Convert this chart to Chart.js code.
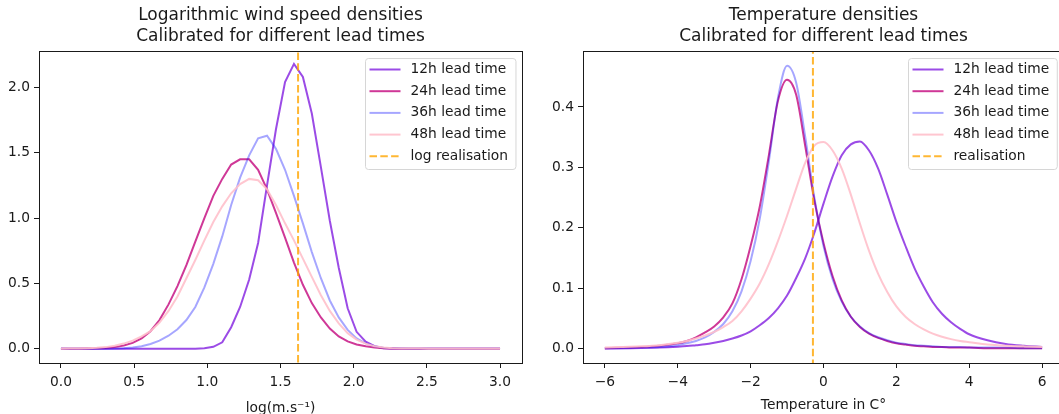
<!DOCTYPE html>
<html>
<head>
<meta charset="utf-8">
<script src="https://cdn.jsdelivr.net/npm/chart.js@4.4.1/dist/chart.umd.min.js"></script>
<style>
  html, body { margin: 0; padding: 0; background: #fff; overflow: hidden; }
  body { width: 1059px; height: 414px; position: relative; }
  #wind { position: absolute; left: 0; top: 0; }
  #temp { position: absolute; left: 530px; top: 0; }
</style>
</head>
<body>
<canvas id="wind" width="530" height="414"></canvas>
<canvas id="temp" width="540" height="414"></canvas>
<script>
// series names (same for both panels)
const leadLabels = ['12h lead time', '24h lead time', '36h lead time', '48h lead time'];

// left panel: log wind speed grid and densities
const windX = [0.000, 0.061, 0.122, 0.184, 0.245, 0.306, 0.367, 0.429, 0.490, 0.551,
  0.612, 0.673, 0.735, 0.796, 0.857, 0.918, 0.980, 1.041, 1.102, 1.163,
  1.224, 1.286, 1.347, 1.408, 1.469, 1.531, 1.592, 1.653, 1.714, 1.776,
  1.837, 1.898, 1.959, 2.020, 2.082, 2.143, 2.204, 2.265, 2.327, 2.388,
  2.449, 2.510, 2.571, 2.633, 2.694, 2.755, 2.816, 2.878, 2.939, 3.000];
const wind12 = [0, 0, 0, 0, 0, 0, 0, 0, 0, 0,
  0, 0, 0, 0, 0, 0, 0.005, 0.015, 0.05, 0.165,
  0.32, 0.53, 0.81, 1.25, 1.68, 2.04, 2.18, 2.08, 1.80, 1.39,
  0.98, 0.62, 0.31, 0.13, 0.055, 0.02, 0.005, 0, 0, 0,
  0, 0, 0, 0, 0, 0, 0, 0, 0, 0];
const wind24 = [0.001, 0.001, 0.001, 0.002, 0.004, 0.007, 0.013, 0.025, 0.045, 0.08,
  0.135, 0.22, 0.34, 0.48, 0.64, 0.82, 1.00, 1.17, 1.30, 1.41,
  1.45, 1.45, 1.37, 1.22, 1.04, 0.85, 0.66, 0.49, 0.35, 0.24,
  0.155, 0.095, 0.057, 0.033, 0.019, 0.01, 0.005, 0.003, 0.001, 0,
  0, 0, 0, 0, 0, 0, 0, 0, 0, 0];
const wind36 = [0, 0, 0, 0, 0, 0.001, 0.002, 0.005, 0.01, 0.02,
  0.037, 0.063, 0.10, 0.15, 0.22, 0.32, 0.47, 0.65, 0.86, 1.10,
  1.31, 1.48, 1.61, 1.63, 1.53, 1.37, 1.17, 0.96, 0.74, 0.54,
  0.37, 0.24, 0.145, 0.08, 0.042, 0.02, 0.009, 0.004, 0.002, 0.001,
  0.001, 0.001, 0.001, 0.001, 0.001, 0.001, 0.001, 0.001, 0.001, 0.001];
const wind48 = [0.001, 0.002, 0.003, 0.005, 0.008, 0.013, 0.023, 0.04, 0.063, 0.095,
  0.135, 0.20, 0.29, 0.40, 0.54, 0.68, 0.83, 0.97, 1.09, 1.19,
  1.26, 1.30, 1.29, 1.22, 1.10, 0.96, 0.83, 0.69, 0.55, 0.41,
  0.29, 0.195, 0.12, 0.07, 0.04, 0.02, 0.01, 0.005, 0.003, 0.002,
  0.002, 0.001, 0.001, 0.001, 0.001, 0.001, 0.001, 0.001, 0.001, 0.001];
const windReal = 1.62;
const windXTicks = [0, 0.5, 1, 1.5, 2, 2.5, 3];
const windYTicks = [0, 0.5, 1, 1.5, 2];

// right panel: temperature grid and densities
const tempX = [-6, -5.5, -5, -4.5, -4, -3.75, -3.5, -3.25, -3, -2.75,
  -2.5, -2.25, -2, -1.75, -1.5, -1.25, -1, -0.75, -0.5, -0.25,
  0, 0.25, 0.5, 0.75, 1, 1.25, 1.5, 1.75, 2, 2.25,
  2.5, 2.75, 3, 3.25, 3.5, 3.75, 4, 4.5, 5, 5.5, 6];
const temp12 = [0.0005, 0.001, 0.0012, 0.002, 0.0035, 0.0045, 0.006, 0.0075, 0.010, 0.013,
  0.017, 0.022, 0.029, 0.039, 0.051, 0.067, 0.088, 0.117, 0.150, 0.192,
  0.24, 0.285, 0.32, 0.338, 0.343, 0.328, 0.298, 0.255, 0.21, 0.17,
  0.133, 0.103, 0.077, 0.058, 0.044, 0.033, 0.024, 0.014, 0.008, 0.005, 0.003];
const temp24 = [0.001, 0.002, 0.003, 0.005, 0.009, 0.013, 0.019, 0.027, 0.037, 0.052,
  0.075, 0.115, 0.17, 0.235, 0.32, 0.41, 0.445, 0.42, 0.335, 0.245,
  0.175, 0.12, 0.08, 0.053, 0.036, 0.025, 0.018, 0.013, 0.009, 0.007,
  0.005, 0.004, 0.003, 0.003, 0.002, 0.002, 0.002, 0.001, 0.001, 0.001, 0.001];
const temp36 = [0.001, 0.001, 0.002, 0.003, 0.006, 0.009, 0.013, 0.019, 0.028, 0.041,
  0.062, 0.095, 0.145, 0.215, 0.31, 0.415, 0.468, 0.44, 0.35, 0.25,
  0.17, 0.115, 0.078, 0.053, 0.037, 0.026, 0.019, 0.014, 0.01, 0.008,
  0.006, 0.005, 0.004, 0.003, 0.003, 0.003, 0.002, 0.002, 0.002, 0.001, 0.001];
const temp48 = [0.002, 0.003, 0.004, 0.006, 0.01, 0.013, 0.017, 0.022, 0.028, 0.036,
  0.046, 0.062, 0.083, 0.108, 0.14, 0.178, 0.22, 0.265, 0.308, 0.336,
  0.342, 0.328, 0.298, 0.255, 0.207, 0.162, 0.124, 0.094, 0.07, 0.053,
  0.041, 0.032, 0.025, 0.02, 0.016, 0.013, 0.011, 0.007, 0.005, 0.004, 0.003];
const tempReal = -0.29;
const tempXTicks = [-6, -4, -2, 0, 2, 4, 6];
const tempYTicks = [0, 0.1, 0.2, 0.3, 0.4];

const FONT = '"DejaVu Sans", sans-serif';
const INK = '#1a1a1a';
const lineColors = ['rgba(138, 43, 226, 0.85)', 'rgba(199, 21, 133, 0.85)',
  'rgba(0, 0, 255, 0.35)', 'rgba(255, 192, 203, 0.9)'];
const realColor = 'rgba(255, 165, 0, 0.8)';

Chart.defaults.font.family = FONT;
Chart.defaults.color = INK;

// closed axes frame + matplotlib style legend box in the upper right
const frameAndLegend = {
  id: 'frameAndLegend',
  afterDatasetsDraw(chart) {
    const {ctx, chartArea: a} = chart;
    ctx.save();
    ctx.strokeStyle = INK;
    ctx.lineWidth = 1;
    ctx.strokeRect(a.left + 0.5, a.top + 0.5, a.right - a.left, a.bottom - a.top);

    const items = chart.data.datasets;
    ctx.font = '13.8px ' + FONT;
    const textW = Math.max(...items.map(d => ctx.measureText(d.label).width));
    const pad = 4, handle = 31, gap = 10, rowH = 21.7;
    const w = pad + handle + gap + textW + 8;
    const h = items.length * rowH + 2.5;
    const x0 = Math.round(a.right - 7 - w) + 0.5, y0 = Math.round(a.top + 7) + 0.5;
    ctx.beginPath();
    ctx.roundRect(x0, y0, w, h, 3);
    ctx.fillStyle = 'rgba(255,255,255,0.8)';
    ctx.fill();
    ctx.strokeStyle = '#d6d6d6';
    ctx.stroke();
    items.forEach((d, i) => {
      const cy = y0 + 11 + i * rowH;
      ctx.beginPath();
      ctx.setLineDash(d.borderDash || []);
      ctx.strokeStyle = d.borderColor;
      ctx.lineWidth = d.borderWidth;
      ctx.moveTo(x0 + pad, cy);
      ctx.lineTo(x0 + pad + handle, cy);
      ctx.stroke();
      ctx.setLineDash([]);
      ctx.fillStyle = INK;
      ctx.textBaseline = 'middle';
      ctx.textAlign = 'left';
      ctx.fillText(d.label, x0 + pad + handle + gap, cy);
    });
    ctx.restore();
  }
};

function densityChart(id, xs, series, realX, realLabel, opt) {
  const datasets = series.map((ys, i) => ({
    label: leadLabels[i],
    data: xs.map((x, k) => ({x: x, y: ys[k]})),
    borderColor: lineColors[i],
    borderWidth: 2,
    pointRadius: 0,
    tension: 0,
    cubicInterpolationMode: opt.smooth ? 'monotone' : 'default',
    order: 4 - i
  }));
  datasets.push({
    label: realLabel,
    data: [{x: realX, y: -100}, {x: realX, y: 100}],
    borderColor: realColor,
    borderWidth: 2,
    borderDash: [7.5, 3.3],
    pointRadius: 0,
    order: 0
  });
  const tickFont = {family: FONT, size: 13.8};
  return new Chart(document.getElementById(id), {
    type: 'line',
    data: {datasets: datasets},
    plugins: [frameAndLegend],
    options: {
      responsive: false,
      animation: false,
      devicePixelRatio: 1,
      layout: {padding: {left: 0, right: opt.padRight, top: 0, bottom: 0}},
      plugins: {
        legend: {display: false},
        tooltip: {enabled: false},
        title: {
          display: true,
          text: opt.title,
          fullSize: false,
          color: INK,
          font: {family: FONT, size: 17, weight: 'normal', lineHeight: 1.25},
          padding: {top: 4.5, bottom: 4}
        }
      },
      scales: {
        x: {
          type: 'linear',
          min: opt.xMin,
          max: opt.xMax,
          afterBuildTicks: s => { s.ticks = opt.xTicks.map(v => ({value: v})); },
          afterFit: s => { s.height = 51; },
          ticks: {font: tickFont, color: INK, padding: 6, maxRotation: 0, autoSkip: false,
            callback: opt.xFormat},
          grid: {drawOnChartArea: false, tickLength: 5, color: INK, lineWidth: 1},
          border: {color: INK, width: 1},
          title: {display: true, text: opt.xTitle, color: INK,
            font: {family: FONT, size: 13.8, lineHeight: 1},
            padding: {top: 0, bottom: opt.xTitleBottom}}
        },
        y: {
          type: 'linear',
          min: opt.yMin,
          max: opt.yMax,
          afterBuildTicks: s => { s.ticks = opt.yTicks.map(v => ({value: v})); },
          afterFit: s => { s.width = opt.yWidth; },
          ticks: {font: tickFont, color: INK, padding: 4, autoSkip: false,
            callback: v => v.toFixed(1)},
          grid: {drawOnChartArea: false, tickLength: 5, color: INK, lineWidth: 1},
          border: {color: INK, width: 1}
        }
      }
    }
  });
}

densityChart('wind', windX, [wind12, wind24, wind36, wind48], windReal, 'log realisation', {
  title: ['Logarithmic wind speed densities', 'Calibrated for different lead times'],
  xTitle: 'log(m.s\u207B\u00B9)',
  xMin: -0.15, xMax: 3.15, yMin: -0.1085, yMax: 2.2785,
  xTicks: windXTicks, yTicks: windYTicks,
  xFormat: v => v.toFixed(1),
  yWidth: 39, padRight: 8, smooth: false, xTitleBottom: -1
});

densityChart('temp', tempX, [temp12, temp24, temp36, temp48], tempReal, 'realisation', {
  title: ['Temperature densities', 'Calibrated for different lead times'],
  xTitle: 'Temperature in C\u00B0',
  xMin: -6.6, xMax: 6.6, yMin: -0.0235, yMax: 0.4925,
  xTicks: tempXTicks, yTicks: tempYTicks,
  xFormat: v => (v < 0 ? '\u2212' + (-v) : String(v)),
  yWidth: 53, padRight: 6, smooth: true, xTitleBottom: 2
});
</script>
</body>
</html>
